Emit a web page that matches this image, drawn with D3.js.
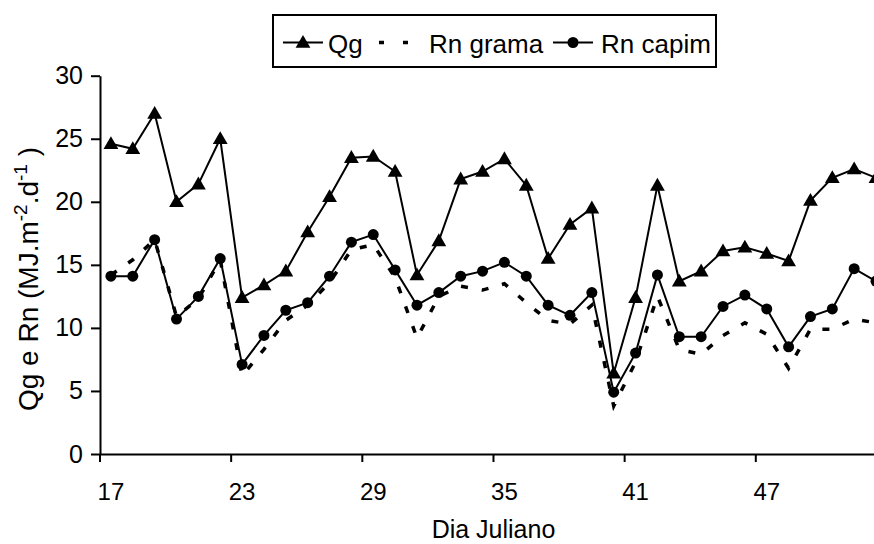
<!DOCTYPE html>
<html><head><meta charset="utf-8">
<script src="https://cdn.jsdelivr.net/npm/d3@7"></script>
<style>
body{margin:0;background:#fff;}
svg{display:block;font-family:"Liberation Sans",Arial,sans-serif;}
</style></head>
<body>
<svg id="c" width="874" height="544"></svg>
<script>
const days = ["17","18","19","20","21","22","23","24","25","26","27","28","29","30","31","32","33","34","35","36","37","38","39","40","41","42","43","44","45","46","47","48","49","50","51","52"];
const qg = [24.6,24.2,27.0,20.0,21.4,25.0,12.4,13.4,14.5,17.6,20.4,23.5,23.6,22.4,14.2,16.9,21.8,22.4,23.4,21.3,15.5,18.2,19.5,6.4,12.4,21.3,13.7,14.5,16.1,16.4,15.9,15.3,20.1,21.9,22.6,21.9];
const rnGrama = [14.2,15.4,17.0,10.9,12.3,15.4,6.2,8.3,10.6,11.8,13.6,16.2,16.6,14.0,9.2,12.5,13.3,13.0,13.5,12.0,10.6,10.3,11.8,3.8,7.3,12.5,8.3,7.9,9.4,10.4,9.5,6.8,9.9,9.9,10.7,10.4];
const rnCapim = [14.1,14.1,17.0,10.7,12.5,15.5,7.1,9.4,11.4,12.0,14.1,16.8,17.4,14.6,11.8,12.8,14.1,14.5,15.2,14.1,11.8,11.0,12.8,4.9,8.0,14.2,9.3,9.3,11.7,12.6,11.5,8.5,10.9,11.5,14.7,13.7];
const xLabels = ["17","23","29","35","41","47"];
const yTicks = [0,5,10,15,20,25,30];
const legendNames = ["Qg","Rn grama","Rn capim"];

const svg = d3.select("#c");
const pLeft = 100, pTop = 75.7, pBottom = 454, step = 21.86;
const pRight = pLeft + days.length*step;
const x = d3.scaleBand().domain(days).range([pLeft, pRight]).padding(0);
const y = d3.scaleLinear().domain([0,30]).range([pBottom, pTop]);
const bw = x.bandwidth();
const cx = d => x(d) + bw/2;

// Y axis
const ya = svg.append("g").attr("transform", `translate(${pLeft},0)`)
  .call(d3.axisLeft(y).tickValues(yTicks).tickSize(9).tickPadding(8).tickSizeOuter(0));
ya.select(".domain").attr("stroke","#000").attr("stroke-width",2);
ya.selectAll(".tick line").attr("stroke","#000").attr("stroke-width",2);
ya.selectAll(".tick text").attr("font-size",25).attr("fill","#000").attr("font-family","Liberation Sans, Arial, sans-serif");

// X axis
const xa = svg.append("g").attr("transform", `translate(0,${pBottom})`)
  .call(d3.axisBottom(x).tickValues(xLabels).tickSize(8).tickPadding(21).tickSizeOuter(0));
xa.select(".domain").attr("stroke","#000").attr("stroke-width",2);
xa.selectAll(".tick line").attr("stroke","#000").attr("stroke-width",2).attr("x1",-bw/2).attr("x2",-bw/2);
xa.selectAll(".tick text").attr("font-size",24).attr("fill","#000").attr("font-family","Liberation Sans, Arial, sans-serif");
xa.append("line").attr("x1",pRight).attr("x2",pRight).attr("y1",0).attr("y2",8).attr("stroke","#000").attr("stroke-width",2);

// Axis titles
svg.append("text").attr("x",(pLeft+pRight)/2).attr("y",538)
  .attr("text-anchor","middle").attr("font-size",25).text("Dia Juliano");
const yt = svg.append("text").attr("transform",`translate(38,279) rotate(-90)`)
  .attr("text-anchor","middle").attr("font-size",28);
yt.append("tspan").text("Qg e Rn (MJ.m");
yt.append("tspan").attr("dy",-11).attr("font-size",19).text("-2");
yt.append("tspan").attr("dy",11).text(".d");
yt.append("tspan").attr("dy",-11).attr("font-size",19).text("-1");
yt.append("tspan").attr("dy",11).text(" )");

const line = d3.line().x((d,i)=>cx(days[i])).y(d=>y(d));
const tri = d3.symbol().type(d3.symbolTriangle).size(95);

// Qg
svg.append("path").datum(qg).attr("d",line).attr("fill","none").attr("stroke","#000").attr("stroke-width",2);
svg.append("g").selectAll("path").data(qg).join("path").attr("d",tri)
  .attr("transform",(d,i)=>`translate(${cx(days[i])},${y(d)+1})`).attr("fill","#000");
// Rn grama
svg.append("path").datum(rnGrama).attr("d",line).attr("fill","none").attr("stroke","#000")
  .attr("stroke-width",3.5).attr("stroke-dasharray","7,14");
// Rn capim
svg.append("path").datum(rnCapim).attr("d",line).attr("fill","none").attr("stroke","#000").attr("stroke-width",2);
svg.append("g").selectAll("circle").data(rnCapim).join("circle")
  .attr("cx",(d,i)=>cx(days[i])).attr("cy",d=>y(d)).attr("r",5.5).attr("fill","#000");

// Legend
const lg = svg.append("g");
lg.append("rect").attr("x",273).attr("y",15).attr("width",443).attr("height",52).attr("fill","#fff").attr("stroke","#000").attr("stroke-width",2);
const ly = 42.5;
lg.append("line").attr("x1",283).attr("x2",323).attr("y1",ly).attr("y2",ly).attr("stroke","#000").attr("stroke-width",2);
lg.append("path").attr("d",tri).attr("transform",`translate(303,${ly+1})`).attr("fill","#000");
lg.append("text").attr("x",328).attr("y",53).attr("font-size",26).text(legendNames[0]);
lg.append("line").attr("x1",379).attr("x2",410).attr("y1",ly).attr("y2",ly).attr("stroke","#000").attr("stroke-width",3.5).attr("stroke-dasharray","5,19");
lg.append("text").attr("x",429).attr("y",53).attr("font-size",26).text(legendNames[1]);
lg.append("line").attr("x1",553).attr("x2",593).attr("y1",ly).attr("y2",ly).attr("stroke","#000").attr("stroke-width",2);
lg.append("circle").attr("cx",573).attr("cy",ly).attr("r",5.5).attr("fill","#000");
lg.append("text").attr("x",601).attr("y",53).attr("font-size",26).text(legendNames[2]);
</script>
</body></html>
